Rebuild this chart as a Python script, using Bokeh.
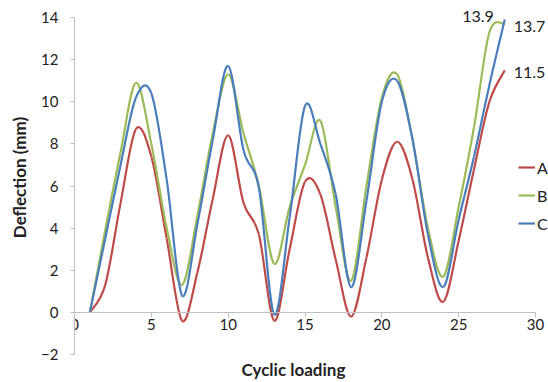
import numpy as np
from bokeh.plotting import figure
from bokeh.models import (Range1d, ColumnDataSource, Legend, LegendItem, Label,
                          FixedTicker, Title)
from bokeh.embed import file_html
from bokeh.resources import INLINE

# ---- data ----
cycles = list(range(1, 29))
A = [0, 1.3, 5.2, 8.7, 7.4, 3.5, -0.4, 1.9, 5.4, 8.4, 5.2, 3.7, -0.4, 3.0,
     6.2, 5.6, 2.5, -0.2, 2.6, 6.3, 8.1, 6.3, 2.6, 0.5, 3.4, 6.8, 10.0, 11.5]
B = [0, 3.9, 7.6, 10.9, 8.0, 4.0, 1.3, 4.6, 8.5, 11.3, 8.5, 6.0, 2.3, 5.0,
     7.0, 9.1, 5.0, 1.5, 6.0, 10.2, 11.3, 8.2, 4.0, 1.7, 5.0, 8.8, 13.3, 13.7]
C = [0, 3.5, 7.0, 10.2, 10.4, 6.3, 0.8, 4.2, 8.2, 11.7, 7.7, 5.9, -0.1, 4.5,
     9.8, 8.0, 5.6, 1.2, 5.3, 10.0, 11.0, 8.2, 3.7, 1.2, 4.4, 7.4, 10.8, 13.9]
series_names = ["A", "B", "C"]
colors = ["#BE4B48", "#9BBB59", "#4A7EBB"]
x_ticks = [0, 5, 10, 15, 20, 25, 30]
y_ticks = [-2, 0, 2, 4, 6, 8, 10, 12, 14]
x_axis_max = 30
y_axis_min, y_axis_max = -2, 14

FONT = "Lato"

# pixel geometry: axis 0..30 spans 461 px, -2..14 spans 337 px
PX_X = 461 / (x_axis_max - 0)
PX_Y = 337 / (y_axis_max - y_axis_min)
FRAME_W = 474          # extends beyond x=30 so right-side labels are not clipped
FRAME_H = 354          # extends above y=14 so top label is not clipped


def smooth_segments(xs, ys):
    """Excel-like smoothed line: cubic Bezier segments (Catmull-Rom style)."""
    x = np.asarray(xs, float)
    y = np.asarray(ys, float)
    n = len(x)
    xp = np.concatenate([[x[0]], x, [x[-1]]])
    yp = np.concatenate([[y[0]], y, [y[-1]]])
    x0, y0, x1, y1, cx0, cy0, cx1, cy1 = ([] for _ in range(8))
    for i in range(n - 1):
        p0 = (xp[i], yp[i]); p1 = (xp[i + 1], yp[i + 1])
        p2 = (xp[i + 2], yp[i + 2]); p3 = (xp[i + 3], yp[i + 3])
        x0.append(p1[0]); y0.append(p1[1])
        x1.append(p2[0]); y1.append(p2[1])
        cx0.append(p1[0] + (p2[0] - p0[0]) / 6.0)
        cy0.append(p1[1] + (p2[1] - p0[1]) / 6.0)
        cx1.append(p2[0] - (p3[0] - p1[0]) / 6.0)
        cy1.append(p2[1] - (p3[1] - p1[1]) / 6.0)
    return ColumnDataSource(dict(x0=x0, y0=y0, x1=x1, y1=y1,
                                 cx0=cx0, cy0=cy0, cx1=cx1, cy1=cy1))


p = figure(width=548, height=382, output_backend="svg", toolbar_location=None,
           x_range=Range1d(0, FRAME_W / PX_X),
           y_range=Range1d(y_axis_min, y_axis_min + FRAME_H / PX_Y),
           frame_width=FRAME_W, frame_height=FRAME_H,
           min_border_left=74, min_border_right=0, min_border_top=0,
           min_border_bottom=28)
p.outline_line_color = None
p.grid.visible = False
p.background_fill_color = "white"
p.border_fill_color = "white"

# x axis crossing at y = 0
xa = p.xaxis[0]
xa.fixed_location = 0
xa.bounds = (0, x_axis_max)
xa.ticker = FixedTicker(ticks=x_ticks)
xa.axis_line_color = "#BFBFBF"
xa.major_tick_line_color = "#BFBFBF"
xa.major_tick_out = 5
xa.major_tick_in = 0
xa.minor_tick_line_color = None
xa.major_label_text_font = FONT
xa.major_label_text_font_size = "15px"
xa.major_label_text_color = "#222222"
xa.major_label_standoff = 2

ya = p.yaxis[0]
ya.bounds = (y_axis_min, y_axis_max)
ya.ticker = FixedTicker(ticks=y_ticks)
ya.axis_line_color = "#BFBFBF"
ya.major_tick_line_color = "#BFBFBF"
ya.major_tick_out = 4
ya.major_tick_in = 0
ya.minor_tick_line_color = None
ya.major_label_text_font = FONT
ya.major_label_text_font_size = "15px"
ya.major_label_text_color = "#222222"
ya.major_label_standoff = 12
ya.axis_label = "Deflection (mm)"
ya.axis_label_text_font = FONT
ya.axis_label_text_font_style = "bold"
ya.axis_label_text_font_size = "17px"
ya.axis_label_text_color = "#222222"
ya.axis_label_standoff = 8

p.add_layout(Title(text="Cyclic loading", align="left", text_font=FONT,
                   text_font_style="bold", text_font_size="17px",
                   text_color="#222222", offset=167, standoff=5), "below")

renderers = []
for name, vals, col in zip(series_names, [A, B, C], colors):
    src = smooth_segments(cycles, vals)
    r = p.bezier(x0="x0", y0="y0", x1="x1", y1="y1", cx0="cx0", cy0="cy0",
                 cx1="cx1", cy1="cy1", source=src, line_color=col,
                 line_width=2.2)
    renderers.append(r)

legend = Legend(items=[LegendItem(label=n, renderers=[r])
                       for n, r in zip(series_names, renderers)],
                location=(444, 121), orientation="vertical",
                glyph_width=17, glyph_height=20, label_height=20,
                label_standoff=2, spacing=8, padding=0, margin=0,
                border_line_color=None, background_fill_alpha=0,
                label_text_font=FONT, label_text_font_size="16px",
                label_text_color="#222222")
p.add_layout(legend, "center")

# end-value data labels
lab_font = dict(text_font=FONT, text_font_size="16px", text_color="#222222",
                text_baseline="middle")
p.add_layout(Label(x=cycles[-1], y=C[-1], text=f"{C[-1]}", x_offset=-11,
                   y_offset=3, text_align="right", **lab_font))
p.add_layout(Label(x=cycles[-1], y=B[-1], text=f"{B[-1]}", x_offset=9,
                   y_offset=-3, text_align="left", **lab_font))
p.add_layout(Label(x=cycles[-1], y=A[-1], text=f"{A[-1]}", x_offset=9,
                   y_offset=-2, text_align="left", **lab_font))

open("out.html", "w").write(file_html(p, INLINE))
